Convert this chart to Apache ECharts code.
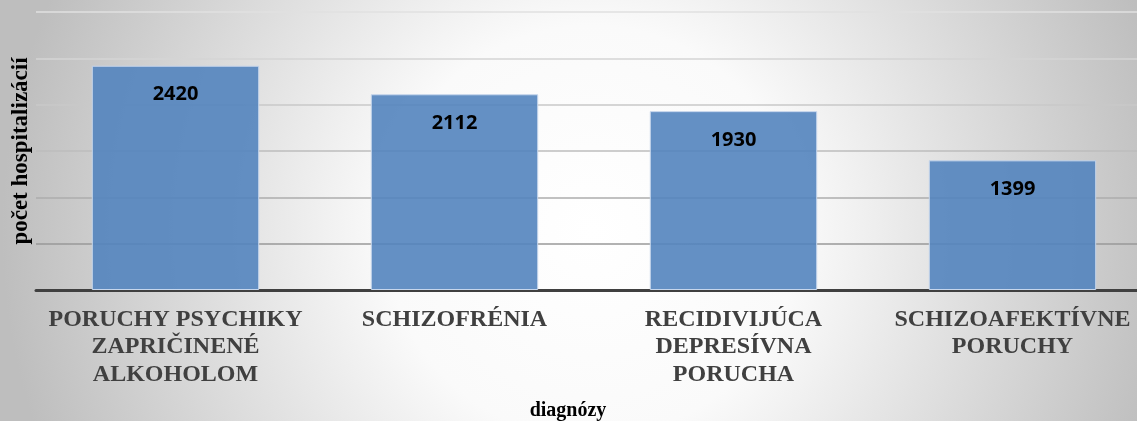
<!DOCTYPE html>
<html>
<head>
<meta charset="utf-8">
<script src="https://cdn.jsdelivr.net/npm/echarts@6/dist/echarts.min.js"></script>
<style>
  html, body { margin: 0; padding: 0; }
  #main { width: 1137px; height: 421px; }
</style>
</head>
<body>
<div id="main"></div>
<script>
    // diagnózy a počet hospitalizácií
    var categories = ['PORUCHY PSYCHIKY\nZAPRIČINENÉ\nALKOHOLOM', 'SCHIZOFRÉNIA', 'RECIDIVIJÚCA\nDEPRESÍVNA\nPORUCHA', 'SCHIZOAFEKTÍVNE\nPORUCHY'];
    var hospitalizacie = [2420, 2112, 1930, 1399];

    var myChart = echarts.init(document.getElementById('main'));
    var option = {
        backgroundColor: {
            type: 'radial', x: 0.52, y: 0.55, r: 1.4,
            colorStops: [
                {offset: 0, color: '#ffffff'},
                {offset: 0.35, color: '#fafafa'},
                {offset: 1, color: '#bebebe'}
            ]
        },
        grid: {
            top: 12,
            bottom: 131,
            left: 36,
            right: -15,
            outerBoundsMode: 'none',
            containLabel: false
        },
        xAxis: {
            type: 'category',
            data: categories,
            name: 'diagnózy',
            nameLocation: 'middle',
            nameGap: 111,
            nameTextStyle: {
                fontFamily: 'Liberation Serif',
                fontWeight: 'bold',
                fontSize: 20,
                color: '#000',
                padding: [0, 52, 0, 0]
            },
            axisLine: {show: true, lineStyle: {color: '#404040', width: 3}},
            axisTick: {show: false},
            axisLabel: {
                interval: 0,
                margin: 16,
                fontFamily: 'Liberation Serif',
                fontWeight: 'bold',
                fontSize: 24,
                lineHeight: 27.5,
                color: '#404040'
            }
        },
        yAxis: {
            type: 'value',
            min: 0,
            max: 3000,
            interval: 500,
            name: 'počet hospitalizácií',
            nameLocation: 'middle',
            nameGap: 3,
            nameTextStyle: {
                fontFamily: 'Liberation Serif',
                fontWeight: 'bold',
                fontSize: 23,
                color: '#000'
            },
            axisLine: {show: false},
            axisTick: {show: false},
            axisLabel: {show: false},
            splitLine: {
                show: true,
                lineStyle: {
                    // lines get lighter towards the top
                    color: ['#909090', '#999999', '#acacac', '#bcbcbc', '#c8c8c8', '#d4d4d4', '#e0e0e0'],
                    width: 1.5
                }
            }
        },
        series: [{
            type: 'bar',
            data: hospitalizacie,
            barWidth: '60%',
            itemStyle: {
                color: 'rgba(83,132,190,0.9)',
                borderColor: '#c6d6ec',
                borderWidth: 1
            },
            label: {
                show: true,
                position: 'insideTop',
                distance: 19,
                fontFamily: 'Open Sans',
                fontWeight: 'bold',
                fontSize: 20,
                color: '#000'
            }
        }]
    };
    myChart.setOption(option);
</script>
</body>
</html>
